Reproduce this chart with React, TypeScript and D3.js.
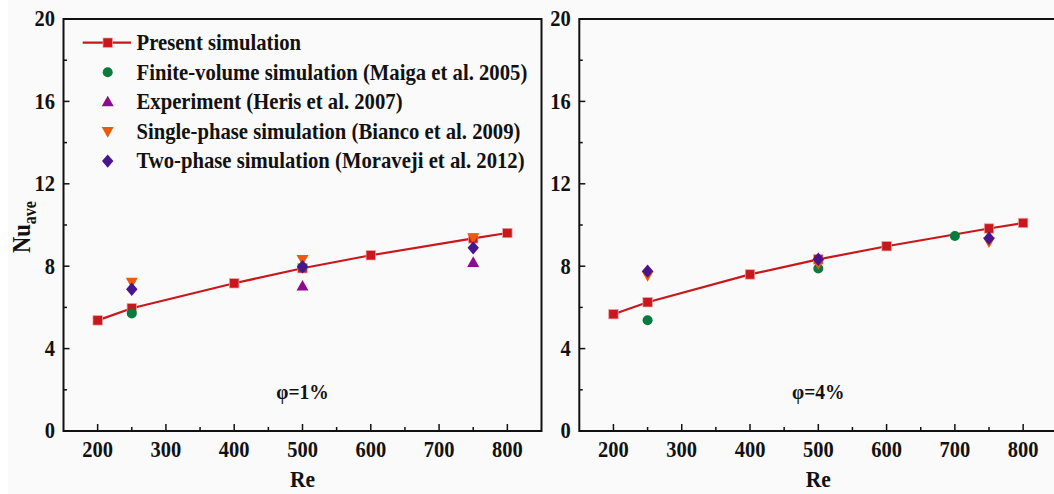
import React from "react";
import * as d3 from "d3";

// Average Nusselt number vs Reynolds number, two volume fractions
const reTicks = [200, 300, 400, 500, 600, 700, 800];
const nuTicks = [0, 4, 8, 12, 16, 20];

// φ = 1 %
const presentRe1 = [200, 250, 400, 500, 600, 750, 800];
const presentNu1 = [5.37, 5.96, 7.17, 7.9, 8.53, 9.35, 9.61];
const maigaRe1 = [250, 500];
const maigaNu1 = [5.7, 7.95];
const herisRe1 = [500, 750];
const herisNu1 = [7.03, 8.18];
const biancoRe1 = [250, 500, 750];
const biancoNu1 = [7.22, 8.33, 9.38];
const moravejiRe1 = [250, 500, 750];
const moravejiNu1 = [6.88, 7.97, 8.89];

// φ = 4 %
const presentRe4 = [200, 250, 400, 500, 600, 750, 800];
const presentNu4 = [5.67, 6.25, 7.6, 8.33, 8.97, 9.83, 10.1];
const maigaRe4 = [250, 500, 700];
const maigaNu4 = [5.38, 7.89, 9.47];
const herisRe4: number[] = [];
const herisNu4: number[] = [];
const biancoRe4 = [250, 500, 750];
const biancoNu4 = [7.55, 8.13, 9.18];
const moravejiRe4 = [250, 500, 750];
const moravejiNu4 = [7.76, 8.34, 9.36];

const legendLabels = [
  "Present simulation",
  "Finite-volume simulation (Maiga et al. 2005)",
  "Experiment (Heris et al. 2007)",
  "Single-phase simulation (Bianco et al. 2009)",
  "Two-phase simulation (Moraveji et al. 2012)",
];

const RED = "#c8171d";
const GREEN = "#0b7a3e";
const MAGENTA = "#8e0b8c";
const ORANGE = "#ec5a0e";
const INDIGO = "#4a148c";
const AXIS = "#111";
const FONT = "'Liberation Serif', 'Times New Roman', serif";

const W = 1054;
const H = 494;
const TOP = 19;
const BOTTOM = 431;

type Kind = "square" | "circle" | "up" | "down" | "diamond";

function Marker({ kind, x, y }: { kind: Kind; x: number; y: number }) {
  if (kind === "square")
    return <rect x={x - 4.7} y={y - 4.7} width={9.4} height={9.4} fill={RED} stroke="#eea0a0" strokeWidth={0.7} />;
  if (kind === "circle") return <circle cx={x} cy={y} r={5} fill={GREEN} />;
  if (kind === "up")
    return <path d={`M${x},${y - 6.2} L${x + 6},${y + 4.4} L${x - 6},${y + 4.4} Z`} fill={MAGENTA} />;
  if (kind === "down")
    return <path d={`M${x},${y + 6.2} L${x + 6},${y - 4.4} L${x - 6},${y - 4.4} Z`} fill={ORANGE} />;
  return <path d={`M${x},${y - 6.7} L${x + 5.7},${y} L${x},${y + 6.7} L${x - 5.7},${y} Z`} fill={INDIGO} />;
}

// bold serif text, slightly tall like the typeset figure
function T({
  x,
  y,
  size,
  anchor = "start",
  children,
}: {
  x: number;
  y: number;
  size: number;
  anchor?: string;
  children: React.ReactNode;
}) {
  return (
    <text
      transform={`translate(${x},${y}) scale(1,1.1)`}
      fontFamily={FONT}
      fontWeight="bold"
      fontSize={size}
      textAnchor={anchor}
      fill="#111"
    >
      {children}
    </text>
  );
}

interface PanelProps {
  x0: number;
  x1: number;
  label: string;
  presentRe: number[];
  presentNu: number[];
  maigaRe: number[];
  maigaNu: number[];
  herisRe: number[];
  herisNu: number[];
  biancoRe: number[];
  biancoNu: number[];
  moravejiRe: number[];
  moravejiNu: number[];
}

function Panel(p: PanelProps) {
  const x = d3.scaleLinear().domain([150, 850]).range([p.x0, p.x1]);
  const y = d3.scaleLinear().domain([0, 20]).range([BOTTOM, TOP]);
  const line = d3
    .line<number>()
    .x((_, i) => x(p.presentRe[i]))
    .y((v) => y(v));
  const minorX = d3.range(250, 850, 100);
  const minorY = d3.range(2, 20, 4);
  const cx = (p.x0 + p.x1) / 2;

  return (
    <g>
      {/* frame */}
      <rect x={p.x0} y={TOP} width={p.x1 - p.x0} height={BOTTOM - TOP} fill="none" stroke={AXIS} strokeWidth={2} />
      {/* x ticks */}
      {reTicks.map((t) => (
        <g key={"xt" + t}>
          <line x1={x(t)} x2={x(t)} y1={BOTTOM} y2={BOTTOM - 7} stroke={AXIS} strokeWidth={1.5} />
          <T x={x(t)} y={457} size={20.5} anchor="middle">
            {t}
          </T>
        </g>
      ))}
      {minorX.map((t) => (
        <line key={"xm" + t} x1={x(t)} x2={x(t)} y1={BOTTOM} y2={BOTTOM - 4} stroke={AXIS} strokeWidth={1.5} />
      ))}
      {/* y ticks */}
      {nuTicks.map((t) => (
        <g key={"yt" + t}>
          <line x1={p.x0} x2={p.x0 + 6} y1={y(t)} y2={y(t)} stroke={AXIS} strokeWidth={1.5} />
          <T x={p.x0 - 8.5} y={y(t) + 7.3} size={20.5} anchor="end">
            {t}
          </T>
        </g>
      ))}
      {minorY.map((t) => (
        <line key={"ym" + t} x1={p.x0} x2={p.x0 + 3.5} y1={y(t)} y2={y(t)} stroke={AXIS} strokeWidth={1.5} />
      ))}
      <T x={cx} y={487} size={21.5} anchor="middle">
        Re
      </T>
      <T x={cx} y={399} size={19.5} anchor="middle">
        {p.label}
      </T>

      {/* present simulation */}
      <path d={line(p.presentNu) || ""} fill="none" stroke={RED} strokeWidth={2.2} />
      {p.presentNu.map((v, i) => (
        <Marker key={"s" + i} kind="square" x={x(p.presentRe[i])} y={y(v)} />
      ))}
      {p.maigaNu.map((v, i) => (
        <Marker key={"c" + i} kind="circle" x={x(p.maigaRe[i])} y={y(v)} />
      ))}
      {p.herisNu.map((v, i) => (
        <Marker key={"u" + i} kind="up" x={x(p.herisRe[i])} y={y(v)} />
      ))}
      {p.biancoNu.map((v, i) => (
        <Marker key={"d" + i} kind="down" x={x(p.biancoRe[i])} y={y(v)} />
      ))}
      {p.moravejiNu.map((v, i) => (
        <Marker key={"m" + i} kind="diamond" x={x(p.moravejiRe[i])} y={y(v)} />
      ))}
    </g>
  );
}

export default function App() {
  const kinds: Kind[] = ["square", "circle", "up", "down", "diamond"];
  return (
    <svg
      width={W}
      height={H}
      viewBox={`0 0 ${W} ${H}`}
      style={{ position: "fixed", left: 0, top: 0, display: "block" }}
    >
      <rect x={0} y={0} width={W} height={H} fill="#fafafa" />
      <rect x={0} y={0} width={8} height={H} fill="#ffffff" />

      <Panel
        x0={63.5}
        x1={541.5}
        label="φ=1%"
        presentRe={presentRe1}
        presentNu={presentNu1}
        maigaRe={maigaRe1}
        maigaNu={maigaNu1}
        herisRe={herisRe1}
        herisNu={herisNu1}
        biancoRe={biancoRe1}
        biancoNu={biancoNu1}
        moravejiRe={moravejiRe1}
        moravejiNu={moravejiNu1}
      />
      <Panel
        x0={579.3}
        x1={1057.3}
        label="φ=4%"
        presentRe={presentRe4}
        presentNu={presentNu4}
        maigaRe={maigaRe4}
        maigaNu={maigaNu4}
        herisRe={herisRe4}
        herisNu={herisNu4}
        biancoRe={biancoRe4}
        biancoNu={biancoNu4}
        moravejiRe={moravejiRe4}
        moravejiNu={moravejiNu4}
      />

      {/* y-axis title */}
      <text
        transform="translate(30,227) rotate(-90) scale(1,1.12)"
        fontFamily={FONT}
        fontWeight="bold"
        fontSize={22.5}
        textAnchor="middle"
        fill="#111"
      >
        Nu
        <tspan fontSize={16} dy={5}>
          ave
        </tspan>
      </text>

      {/* legend */}
      {legendLabels.map((lab, i) => {
        const ly = 42.7 + i * 29.6;
        return (
          <g key={lab}>
            {i === 0 && <line x1={82.7} x2={131} y1={ly} y2={ly} stroke={RED} strokeWidth={2.2} />}
            <Marker kind={kinds[i]} x={107.7} y={ly} />
            <T x={136.5} y={ly + 7.3} size={20.7}>
              {lab}
            </T>
          </g>
        );
      })}
    </svg>
  );
}
